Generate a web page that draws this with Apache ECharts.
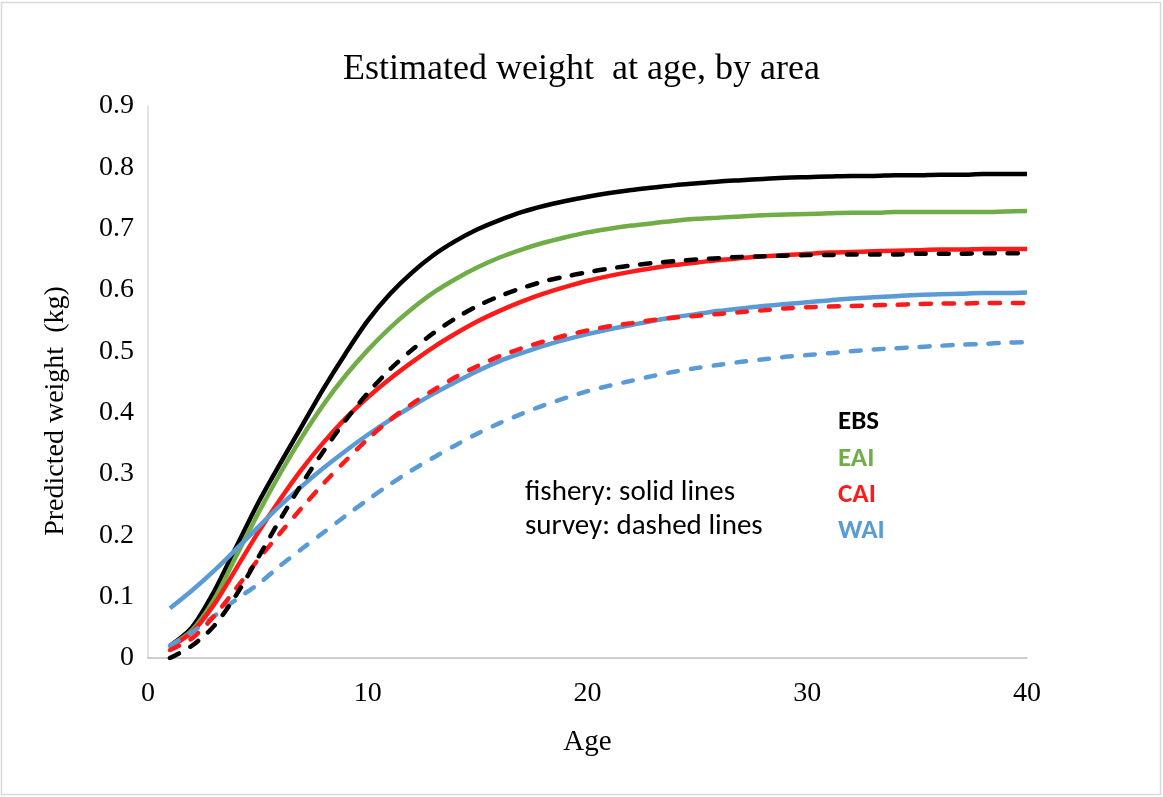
<!DOCTYPE html>
<html>
<head>
<meta charset="utf-8">
<script src="https://cdn.jsdelivr.net/npm/echarts@6/dist/echarts.min.js"></script>
<style>
html,body{margin:0;padding:0;background:#fff;}
#chart{width:1163px;height:797px;}
</style>
</head>
<body>
<div id="chart"></div>
<script>
// ---- data ----
const ages = [1,2,3,4,5,6,7,8,9,10,11,12,13,14,15,16,17,18,19,20,21,22,23,24,25,26,27,28,29,30,31,32,33,34,35,36,37,38,39,40];
const ebsFishery = [0.02,0.05,0.108,0.18,0.252,0.316,0.378,0.44,0.497,0.55,0.593,0.628,0.657,0.68,0.699,0.714,0.727,0.737,0.745,0.752,0.758,0.763,0.767,0.771,0.774,0.777,0.779,0.781,0.783,0.784,0.785,0.786,0.786,0.787,0.787,0.788,0.788,0.789,0.789,0.789];
const eaiFishery = [0.02,0.045,0.095,0.165,0.235,0.30,0.36,0.414,0.461,0.502,0.538,0.569,0.596,0.618,0.637,0.653,0.666,0.677,0.686,0.694,0.700,0.705,0.709,0.713,0.716,0.718,0.720,0.722,0.723,0.724,0.725,0.726,0.726,0.727,0.727,0.727,0.727,0.727,0.728,0.729];
const caiFishery = [0.018,0.042,0.087,0.145,0.204,0.258,0.308,0.352,0.391,0.425,0.455,0.482,0.507,0.529,0.549,0.566,0.581,0.594,0.605,0.615,0.623,0.630,0.636,0.641,0.645,0.649,0.652,0.655,0.657,0.659,0.661,0.662,0.663,0.664,0.665,0.666,0.666,0.667,0.667,0.667];
const waiFishery = [0.081,0.11,0.142,0.177,0.213,0.248,0.28,0.31,0.338,0.364,0.388,0.41,0.431,0.45,0.468,0.484,0.497,0.509,0.519,0.528,0.536,0.543,0.55,0.556,0.561,0.566,0.57,0.574,0.577,0.58,0.583,0.586,0.588,0.59,0.592,0.593,0.594,0.595,0.595,0.596];
const ebsSurvey = [0.0,0.02,0.052,0.102,0.163,0.225,0.284,0.338,0.388,0.432,0.47,0.502,0.53,0.554,0.574,0.59,0.603,0.614,0.622,0.629,0.635,0.64,0.644,0.647,0.65,0.652,0.654,0.655,0.656,0.657,0.657,0.658,0.658,0.658,0.659,0.659,0.659,0.66,0.66,0.66];
const caiSurvey = [0.013,0.032,0.068,0.113,0.16,0.203,0.245,0.285,0.322,0.357,0.388,0.414,0.437,0.458,0.476,0.492,0.505,0.516,0.526,0.534,0.541,0.546,0.551,0.555,0.558,0.561,0.564,0.567,0.57,0.572,0.573,0.574,0.575,0.576,0.577,0.578,0.578,0.579,0.579,0.579];
const waiSurvey = [0.02,0.042,0.068,0.095,0.12,0.15,0.178,0.205,0.232,0.258,0.283,0.306,0.327,0.347,0.366,0.383,0.398,0.412,0.424,0.435,0.444,0.452,0.46,0.467,0.473,0.478,0.483,0.487,0.491,0.494,0.497,0.50,0.503,0.505,0.507,0.509,0.511,0.512,0.514,0.515];
const areaLabels = ['EBS','EAI','CAI','WAI'];
const noteLines = ['fishery: solid lines','survey: dashed lines'];
const titleText = 'Estimated weight  at age, by area';
const yAxisName = 'Predicted weight  (kg)';
const xAxisName = 'Age';

// ---- styles ----
const colors = {EBS:'#000000', EAI:'#70ad47', CAI:'#ff1a1a', WAI:'#5b9bd5'};
const serif = 'Liberation Serif, Times New Roman, serif';
const sans = 'Carlito, Lato, Open Sans, sans-serif';

function pairs(vals){ return ages.map((a,i)=>[a, vals[i]]); }
function mk(name, vals, color, dashed){
  return {
    name: name, type:'line', data: pairs(vals), showSymbol:false, smooth:0.3,
    lineStyle:{color:color, width:4.5, type: dashed ? [10,13] : 'solid', cap: dashed ? 'round':'butt'},
    itemStyle:{color:color}, animation:false, z: dashed ? 3 : 2
  };
}

const chart = echarts.init(document.getElementById('chart'), null, {renderer:'canvas'});
chart.setOption({
  backgroundColor:'#ffffff',
  animation:false,
  title:{text:titleText, left:'center', top:47, textStyle:{fontFamily:serif, fontSize:36, fontWeight:'normal', color:'#000'}},
  grid:{left:148, right:136, top:106, bottom:139},
  xAxis:{type:'value', min:0, max:40, interval:10,
    name:xAxisName, nameLocation:'middle', nameGap:70,
    nameTextStyle:{fontFamily:serif, fontSize:29, color:'#000'},
    axisLine:{show:true, lineStyle:{color:'#bfbfbf', width:1.5}},
    axisTick:{show:false}, splitLine:{show:false},
    axisLabel:{fontFamily:serif, fontSize:28, color:'#000', margin:22}},
  yAxis:{type:'value', min:0, max:0.9, interval:0.1,
    axisLine:{show:true, lineStyle:{color:'#d9d9d9', width:1.5}},
    axisTick:{show:false}, splitLine:{show:false},
    axisLabel:{fontFamily:serif, fontSize:28, color:'#000', margin:14,
      formatter:function(v){ return v===0 ? '0' : v.toFixed(1); }}},
  graphic:[
    {type:'rect', shape:{x:1.5,y:2.5,width:1159,height:792}, style:{fill:'none', stroke:'#d9d9d9', lineWidth:1.5}, silent:true},
    {type:'text', x:56, y:411, rotation:Math.PI/2, style:{text:yAxisName, font:'28px '+serif, fill:'#000', textAlign:'center', textVerticalAlign:'middle'}},
    {type:'text', x:525, y:493, style:{text:noteLines[0], font:'29px '+sans, fill:'#000', textVerticalAlign:'middle'}},
    {type:'text', x:525, y:527, style:{text:noteLines[1], font:'29px '+sans, fill:'#000', textVerticalAlign:'middle'}},
    {type:'text', x:838, y:422, style:{text:areaLabels[0], font:'bold 27px '+sans, fill:colors.EBS, textVerticalAlign:'middle'}},
    {type:'text', x:838, y:459, style:{text:areaLabels[1], font:'bold 27px '+sans, fill:colors.EAI, textVerticalAlign:'middle'}},
    {type:'text', x:838, y:495, style:{text:areaLabels[2], font:'bold 27px '+sans, fill:colors.CAI, textVerticalAlign:'middle'}},
    {type:'text', x:838, y:531, style:{text:areaLabels[3], font:'bold 27px '+sans, fill:colors.WAI, textVerticalAlign:'middle'}}
  ],
  series:[
    mk('EBS fishery', ebsFishery, colors.EBS, false),
    mk('EAI fishery', eaiFishery, colors.EAI, false),
    mk('CAI fishery', caiFishery, colors.CAI, false),
    mk('WAI fishery', waiFishery, colors.WAI, false),
    mk('WAI survey', waiSurvey, colors.WAI, true),
    mk('CAI survey', caiSurvey, colors.CAI, true),
    mk('EBS survey', ebsSurvey, colors.EBS, true)
  ]
});
</script>
</body>
</html>
